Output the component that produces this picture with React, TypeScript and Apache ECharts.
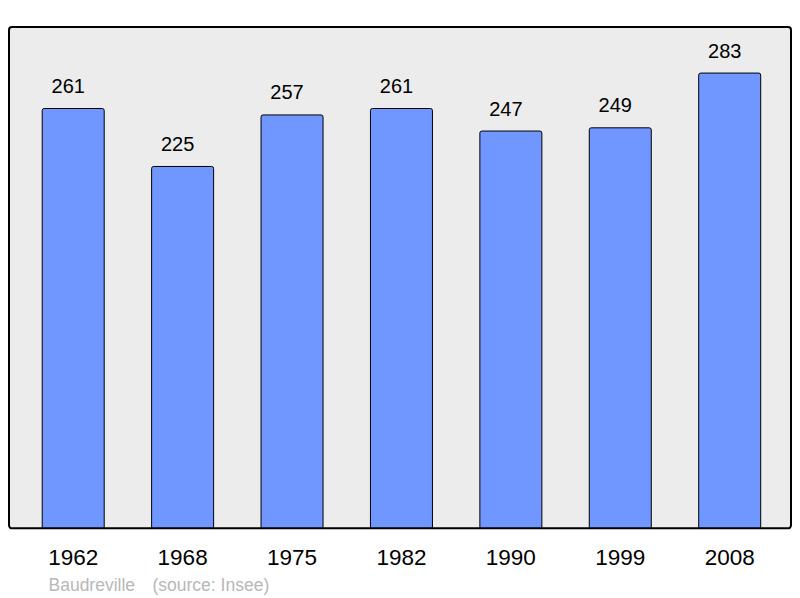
import React, { useEffect, useRef } from "react";
import * as echarts from "echarts";

const years = ["1962", "1968", "1975", "1982", "1990", "1999", "2008"];
const population = [261, 225, 257, 261, 247, 249, 283];
const placeName = "Baudreville";
const sourceNote = "(source: Insee)";

export default function App() {
  const ref = useRef<HTMLDivElement>(null);
  useEffect(() => {
    if (!ref.current) return;
    const chart = echarts.init(ref.current, undefined, { renderer: "svg" });
    const font = "'Liberation Sans', Arial, sans-serif";
    chart.setOption({
      animation: false,
      backgroundColor: "#ffffff",
      grid: { left: 18.5, right: 15.6, top: 27, bottom: 69.7, containLabel: false },
      xAxis: {
        type: "category",
        data: years,
        boundaryGap: true,
        axisLine: { show: false },
        axisTick: { show: false },
        axisLabel: { color: "#000", fontSize: 22.5, fontFamily: font, margin: 17.5 },
      },
      yAxis: {
        type: "value",
        min: 0,
        max: 311.3,
        show: false,
        splitLine: { show: false },
      },
      graphic: [
        {
          type: "rect",
          z: -10,
          shape: { x: 9, y: 27, width: 782, height: 501.3, r: 3 },
          style: { fill: "#ececec", stroke: "#000", lineWidth: 2 },
        },
        {
          type: "text",
          x: 48.5,
          y: 585,
          style: { text: placeName, fill: "#b8b8b8", fontSize: 17.5, fontFamily: font, verticalAlign: "middle" },
        },
        {
          type: "text",
          x: 152.5,
          y: 585,
          style: { text: sourceNote, fill: "#b8b8b8", fontSize: 17.5, fontFamily: font, verticalAlign: "middle" },
        },
      ],
      series: [
        {
          type: "bar",
          data: population,
          barWidth: 63,
          itemStyle: {
            color: "#7096ff",
            borderColor: "#000",
            borderWidth: 1,
            borderRadius: [2, 2, 0, 0],
          },
          label: {
            show: true,
            position: "top",
            distance: 12,
            offset: [-5, 0],
            color: "#000",
            fontSize: 20,
            fontFamily: font,
          },
        },
      ],
    });
    return () => chart.dispose();
  }, []);
  return <div ref={ref} style={{ width: 800, height: 598, position: "absolute", left: 0, top: 0 }} />;
}
